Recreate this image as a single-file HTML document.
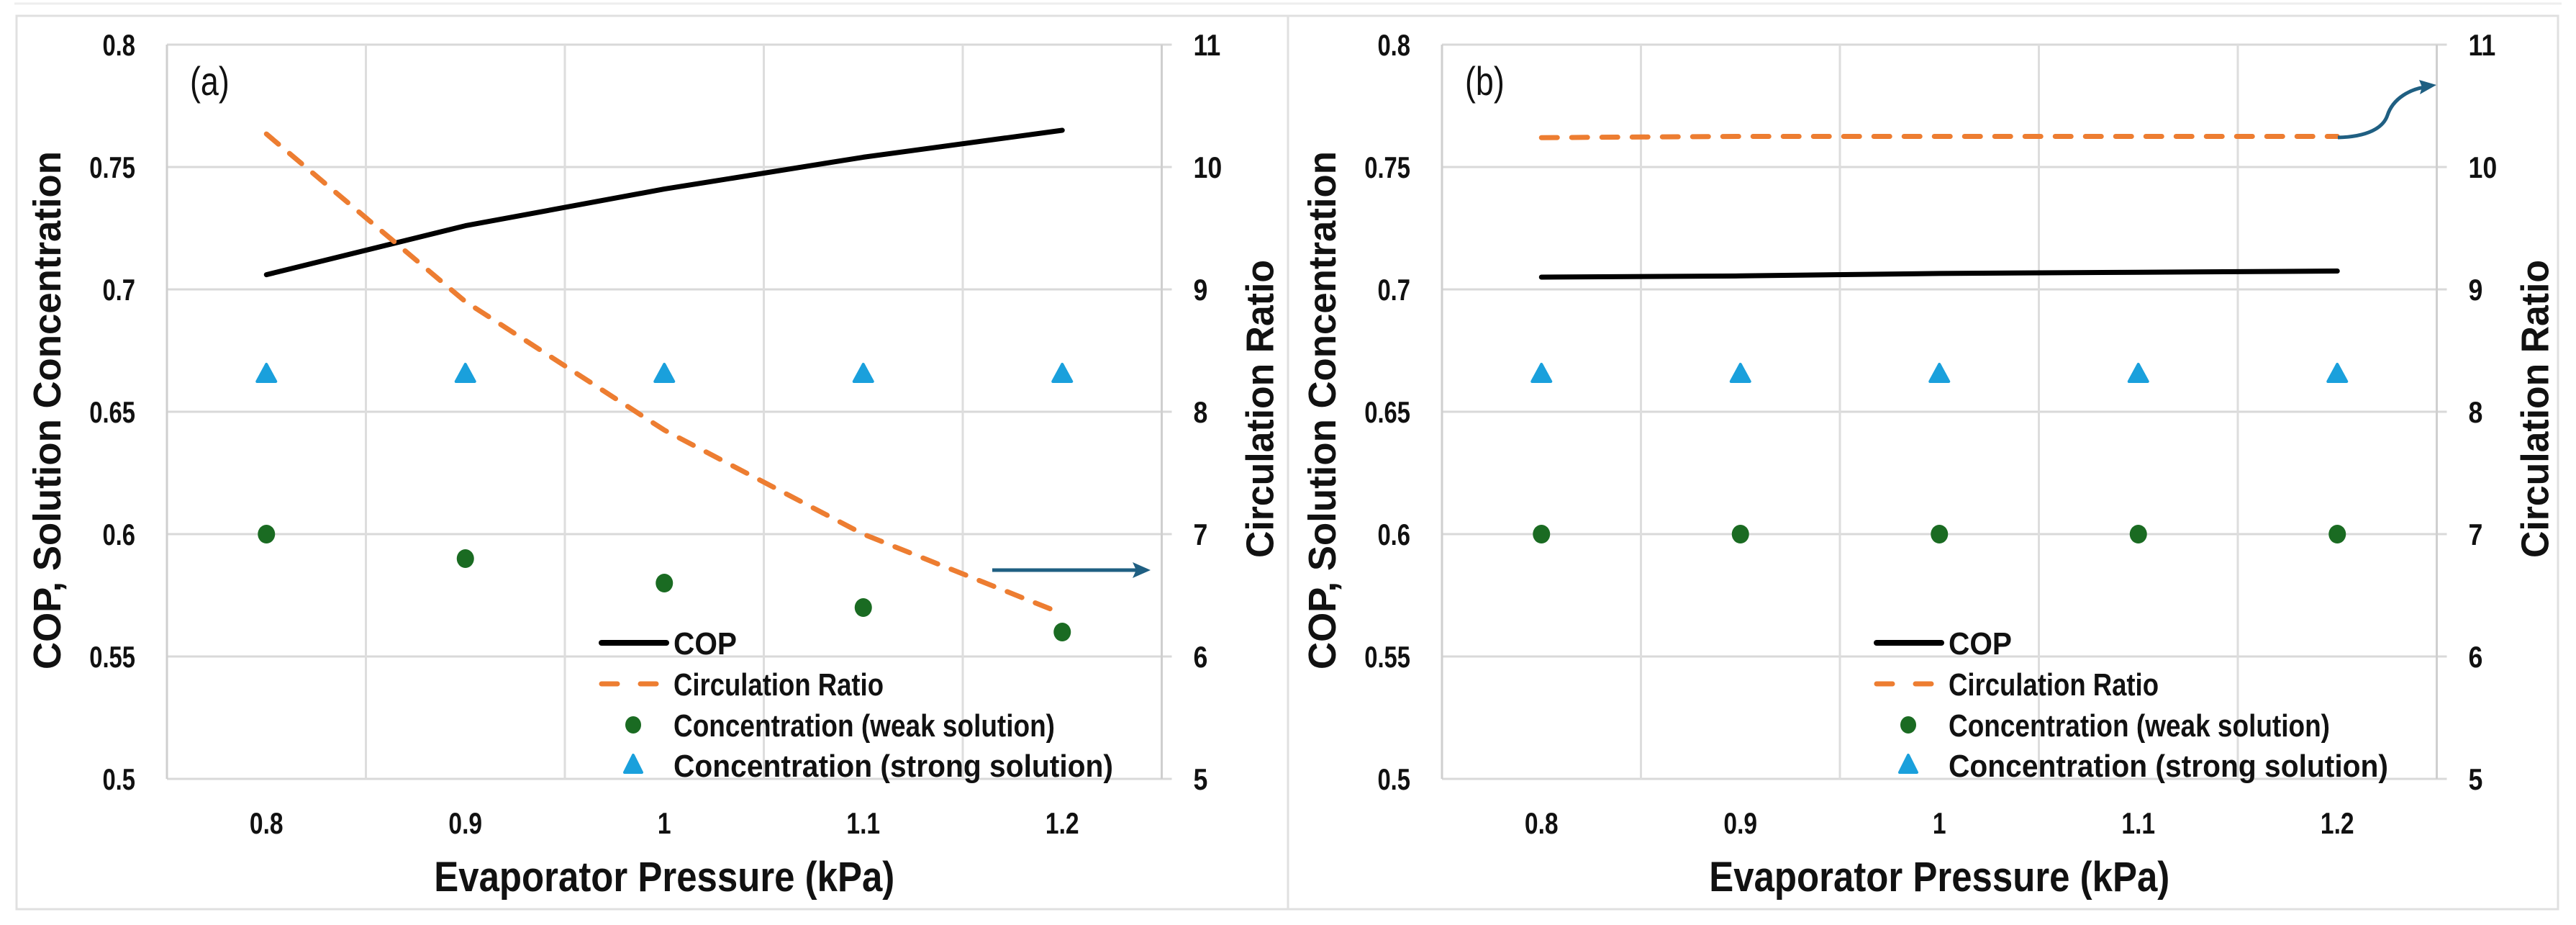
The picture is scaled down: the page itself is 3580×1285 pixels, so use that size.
<!DOCTYPE html>
<html><head><meta charset="utf-8"><style>
html,body{margin:0;padding:0;background:#fff;}
svg{display:block;font-family:"Liberation Sans",sans-serif;}
</style></head><body>
<svg id="chart" width="3580" height="1285" viewBox="0 0 3580 1285">
<rect x="0" y="0" width="3580" height="1285" fill="#fff"/>
<line x1="20" y1="5" x2="3560" y2="5" stroke="#eeeeee" stroke-width="3"/>
<rect x="23" y="22" width="1767" height="1241" fill="none" stroke="#e0e0e0" stroke-width="3"/>
<rect x="1790" y="22" width="1765" height="1241" fill="none" stroke="#e0e0e0" stroke-width="3"/>
<g id="layer"></g>
</svg>
<script>
const categories = ["0.8", "0.9", "1", "1.1", "1.2"];
const leftTicks = ["0.5", "0.55", "0.6", "0.65", "0.7", "0.75", "0.8"];
const rightTicks = ["5", "6", "7", "8", "9", "10", "11"];
const copA = [0.706, 0.726, 0.741, 0.754, 0.765];
const ratioA = [10.27, 8.9, 7.85, 7.0, 6.35];
const weakA = [0.60, 0.59, 0.58, 0.57, 0.56];
const strongA = [0.665, 0.665, 0.665, 0.665, 0.665];
const copB = [0.705, 0.7055, 0.7065, 0.707, 0.7075];
const ratioB = [10.24, 10.25, 10.25, 10.25, 10.25];
const weakB = [0.60, 0.60, 0.60, 0.60, 0.60];
const strongB = [0.665, 0.665, 0.665, 0.665, 0.665];

const NS = "http://www.w3.org/2000/svg";
const layer = document.getElementById("layer");
function mk(tag, attrs, parent) {
  const e = document.createElementNS(NS, tag);
  for (const k in attrs) e.setAttribute(k, attrs[k]);
  (parent || layer).appendChild(e);
  return e;
}
const TOP = 62, BOT = 1082, CW = 276.5;
const yL = v => BOT - (v - 0.5) / 0.3 * (BOT - TOP);
const yR = v => BOT - (v - 5) / 6 * (BOT - TOP);
function sx(x, s) { return `translate(${x} 0) scale(${s} 1) translate(${-x} 0)`; }

function panel(id, left, label, cop, ratio, weak, strong) {
  const right = left + CW * categories.length;
  const xC = i => left + CW * (i + 0.5);
  const g = mk("g", {});
  
  
  leftTicks.forEach((t, i) => {
    const y = yL(parseFloat(t));
    const l = mk("line", {x1: left, x2: right + 14, y1: y, y2: y, stroke: "#d9d9d9", "stroke-width": 3}, g);
    
    
    const tl = mk("text", {x: left - 44, y: y + 15, "text-anchor": "end", "font-size": 42, "font-weight": "bold", fill: "#111", transform: sx(left - 44, 0.78)}, g);
    tl.textContent = t;
    
    
    const tr = mk("text", {x: right + 44, y: yR(parseFloat(rightTicks[i])) + 15, "text-anchor": "start", "font-size": 42, "font-weight": "bold", fill: "#111", transform: sx(right + 44, 0.85)}, g);
    tr.textContent = rightTicks[i];
    
    
  });
  for (let i = 0; i <= categories.length; i++) {
    const x = left + CW * i;
    const l = mk("line", {x1: x, x2: x, y1: TOP, y2: BOT, stroke: i === 0 || i === categories.length ? "#cfcfcf" : "#dddddd", "stroke-width": 3}, g);
    
    
  }
  categories.forEach((c, i) => {
    const t = mk("text", {x: xC(i), y: 1158, "text-anchor": "middle", "font-size": 42, "font-weight": "bold", fill: "#111", transform: sx(xC(i), 0.8)}, g);
    t.textContent = c;
    
    
  });
  const cx = (left + right) / 2;
  const xt = mk("text", {x: cx - 320, y: 1238, "font-size": 58, "font-weight": "bold", fill: "#111", textLength: 640, lengthAdjust: "spacingAndGlyphs"}, g);
  xt.textContent = "Evaporator Pressure (kPa)";
  
  
  const ly = (TOP + BOT) / 2, lx = left - 148;
  const yt = mk("text", {x: -360, y: 0, "font-size": 54, "font-weight": "bold", fill: "#111", textLength: 720, lengthAdjust: "spacingAndGlyphs", transform: `translate(${lx} ${ly - 2}) rotate(-90)`}, g);
  yt.textContent = "COP,  Solution Concentration";
  
  
  const rx = right + 155;
  const rt = mk("text", {x: -207, y: 0, "font-size": 54, "font-weight": "bold", fill: "#111", textLength: 414, lengthAdjust: "spacingAndGlyphs", transform: `translate(${rx} ${ly - 4}) rotate(-90)`}, g);
  rt.textContent = "Circulation Ratio";
  
  
  const pl = mk("text", {x: left + 32, y: 132, "font-size": 56, fill: "#111", transform: sx(left + 32, 0.8)}, g);
  pl.textContent = label;
  
  
  const cl = mk("polyline", {points: cop.map((v, i) => xC(i) + "," + yL(v)).join(" "), fill: "none", stroke: "#000", "stroke-width": 7, "stroke-linecap": "round", "stroke-linejoin": "round"}, g);
  
  
  const rl = mk("polyline", {points: ratio.map((v, i) => xC(i) + "," + yR(v)).join(" "), fill: "none", stroke: "#ED7D31", "stroke-width": 7, "stroke-dasharray": "22 20", "stroke-linecap": "round"}, g);
  
  
  weak.forEach((v, i) => {
    const c = mk("ellipse", {cx: xC(i), cy: yL(v), rx: 12, ry: 13, fill: "#1a6b22"}, g);
    
    
  });
  strong.forEach((v, i) => {
    const x = xC(i), y = yL(v);
    const p = mk("path", {d: `M${x} ${y-15} L${x+13} ${y+9} L${x-13} ${y+9} Z`, fill: "#1aa0dc", stroke: "#1aa0dc", "stroke-width": 4, "stroke-linejoin": "round"}, g);
    
    
  });
  const lgx = left + 604, rows = [893, 950, 1007, 1063];
  const names = ["COP", "Circulation Ratio", "Concentration (weak solution)", "Concentration (strong solution)"];
  const lens = [88, 292, 530, 611];
  rows.forEach((ry, i) => {
    const lg = mk("g", {}, g);
    
    
    if (i === 0) mk("line", {x1: lgx, x2: lgx + 90, y1: ry, y2: ry, stroke: "#000", "stroke-width": 8, "stroke-linecap": "round"}, lg);
    if (i === 1) mk("line", {x1: lgx, x2: lgx + 88, y1: ry, y2: ry, stroke: "#ED7D31", "stroke-width": 7, "stroke-dasharray": "22 32", "stroke-linecap": "round"}, lg);
    if (i === 2) mk("ellipse", {cx: lgx + 44, cy: ry, rx: 11, ry: 12, fill: "#1a6b22"}, lg);
    if (i === 3) mk("path", {d: `M${lgx+44} ${ry-14} L${lgx+56} ${ry+10} L${lgx+32} ${ry+10} Z`, fill: "#1aa0dc", stroke: "#1aa0dc", "stroke-width": 4, "stroke-linejoin": "round"}, lg);
    const t = mk("text", {x: lgx + 100, y: ry + 16, "font-size": 44, "font-weight": "bold", fill: "#111", textLength: lens[i], lengthAdjust: "spacingAndGlyphs"}, lg);
    t.textContent = names[i];
  });
}
panel("a", 232, "(a)", copA, ratioA, weakA, strongA);
panel("b", 2004, "(b)", copB, ratioB, weakB, strongB);

const arA = mk("g", {});


mk("line", {x1: 1379, y1: 792, x2: 1580, y2: 792, stroke: "#1f5f82", "stroke-width": 5}, arA);
mk("path", {d: "M1599 792 L1574 781 L1579 792 L1574 803 Z", fill: "#1f5f82"}, arA);
const arB = mk("g", {});


mk("path", {d: "M3249 191 C3290 190 3312 178 3318 160 C3326 136 3350 124 3370 121", fill: "none", stroke: "#1f5f82", "stroke-width": 5}, arB);
mk("path", {d: "M3386 118 L3362 111 L3366 121 L3363 131 Z", fill: "#1f5f82"}, arB);
</script>
</body></html>
